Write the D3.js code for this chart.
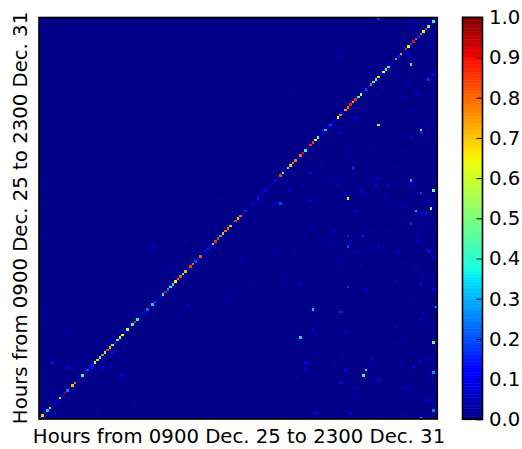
<!DOCTYPE html>
<html>
<head>
  <meta charset="utf-8">
  <title>Hour correlation matrix</title>
  <style>
  html, body { margin: 0; padding: 0; background: #fff; }
  svg { display: block; }
  text { font-family: "DejaVu Sans", sans-serif; fill: #000; }
  .axis-label { font-size: 19.7px; }
  .cbar-axis text { font-size: 19.7px; }
  .cbar-axis path { display: none; }
  .cbar-axis line { stroke: #000; stroke-width: 1px; }
  .frame { fill: none; stroke: #000; stroke-width: 1.6px; }
  </style>
</head>
<body>
  <div id="chart"></div>
  <script src="https://cdn.jsdelivr.net/npm/d3@7"></script>
  <script>
  var width = 522;
  var height = 449;

  var nHours = 159;
  var xLabel = "Hours from 0900 Dec. 25 to 2300 Dec. 31";
  var yLabel = "Hours from 0900 Dec. 25 to 2300 Dec. 31";
  var colorTicks = [0, 0.1, 0.2, 0.3, 0.4, 0.5, 0.6, 0.7, 0.8, 0.9, 1];
  var baseValue = 0.008;

  var diagonal = [
    0.25, 0.70, 0.15, 0.33, 0.50, 0.05, 0.10, 0.10, 0.70, 0.10,
    0.95, 0.25, 0.10, 0.72, 0.78, 0.05, 0.10, 0.42, 0.10, 0.20,
    0.10, 0.15, 0.55, 0.70, 0.38, 0.80, 0.45, 0.85, 0.72, 0.50,
    0.15, 0.40, 0.55, 0.65, 0.10, 0.55, 0.05, 0.42, 0.88, 0.38,
    0.10, 0.05, 0.13, 0.22, 0.05, 0.33, 0.20, 0.05, 0.10, 0.38,
    0.90, 0.25, 0.38, 0.35, 0.65, 0.80, 0.82, 0.40, 0.72, 0.10,
    0.85, 0.82, 0.20, 0.10, 0.82, 0.05, 0.10, 0.15, 0.12, 0.45,
    0.85, 0.85, 0.30, 0.72, 0.80, 0.78, 0.72, 0.08, 0.85, 0.72,
    0.80, 0.10, 0.15, 0.05, 0.03, 0.10, 0.05, 0.15, 0.08, 0.03,
    0.12, 0.10, 0.05, 0.03, 0.12, 0.03, 0.85, 0.42, 0.05, 0.40,
    0.72, 0.78, 0.78, 0.10, 0.82, 0.90, 0.40, 0.05, 0.88, 0.85,
    0.58, 0.48, 0.10, 0.10, 0.33, 0.10, 0.20, 0.10, 0.12, 0.65,
    0.80, 0.10, 0.75, 0.80, 0.88, 0.72, 0.87, 0.42, 0.58, 0.12,
    0.20, 0.08, 0.82, 0.40, 0.42, 0.68, 0.10, 0.65, 0.40, 0.45,
    0.10, 0.03, 0.78, 0.15, 0.75, 0.03, 0.88, 0.65, 0.22, 0.90,
    0.85, 0.15, 0.80, 0.60, 0.88, 0.50, 0.03, 0.42, 0.10
  ];

  //stronger cells away from the diagonal: column, row, value
  var offDiagonal = [
    [5,22,0.15],[11,20,0.12],[14,22,0.08],[14,20,0.08],[21,20,0.12],[25,20,0.10],[28,20,0.10],
    [29,26,0.14],[11,33,0.08],[33,17,0.10],[6,2,0.10],[14,30,0.05],
    [135,158,0.20],[148,140,0.40],[148,157,0.10],[135,116,0.50],[152,114,0.38],[152,113,0.18],
    [154,116,0.10],[157,136,0.12],[155,134,0.18],[126,119,0.10],[148,111,0.10],[145,127,0.08],
    [147,144,0.12],[120,113,0.10],[120,143,0.06],[150,130,0.08],
    [125,99,0.20],[135,95,0.12],[134,92,0.10],[148,94,0.30],[157,90,0.48],[152,89,0.20],
    [123,87,0.62],[156,83,0.52],[150,82,0.30],[152,81,0.14],[154,81,0.14],[126,82,0.12],
    [148,77,0.18],[118,74,0.10],[123,72,0.15],[129,72,0.15],[150,72,0.12],[123,68,0.20],
    [155,66,0.14],[108,97,0.10],[108,86,0.10],[129,89,0.08],[122,89,0.10],
    [104,53,0.10],[123,52,0.18],[130,51,0.12],[152,53,0.12],[157,51,0.12],[109,43,0.33],
    [120,42,0.18],[152,39,0.12],[104,32,0.35],[157,30,0.47],[106,22,0.12],[132,24,0.12],
    [122,19,0.12],[130,19,0.36],[129,17,0.40],[132,16,0.12],[135,15,0.12],[157,18,0.28],
    [106,19,0.10],[152,22,0.10],[120,14,0.14],[155,7,0.12],[157,3,0.25],[152,0,0.28],
    [110,2,0.12],[124,2,0.12],[144,1,0.08],[103,16,0.10],[109,35,0.08],[134,33,0.08],
    [142,36,0.08],[153,42,0.10],[158,44,0.30],[144,21,0.10],[149,20,0.10],[147,12,0.08],
    [144,12,0.08],[127,12,0.08],
    [96,85,0.20],[94,85,0.10],[59,45,0.12],[71,87,0.08],[80,63,0.10],[53,59,0.08],
    [45,68,0.07],[74,46,0.06],[100,90,0.06]
  ];

  //faint background cells, just above the base colour: column, row, value
  var faintCells = [
    [3,40,0.04],[8,12,0.04],[9,55,0.03],[12,7,0.05],[17,44,0.03],[18,6,0.05],[19,61,0.03],[23,3,0.04],
    [24,33,0.04],[26,12,0.05],[30,8,0.04],[31,52,0.03],[34,14,0.04],[36,29,0.03],[38,5,0.05],[40,22,0.04],
    [41,78,0.03],[44,14,0.04],[46,35,0.03],[48,60,0.04],[50,12,0.04],[52,90,0.03],[55,25,0.04],[57,41,0.03],
    [58,70,0.04],[60,105,0.03],[62,18,0.05],[64,48,0.04],[66,120,0.03],[68,34,0.04],[70,8,0.04],[72,62,0.04],
    [73,98,0.04],[75,130,0.03],[76,26,0.04],[78,55,0.04],[80,110,0.04],[82,38,0.03],[83,74,0.05],[85,142,0.03],
    [86,16,0.04],[88,60,0.05],[89,95,0.05],[90,125,0.03],[92,44,0.04],[93,70,0.05],[95,110,0.04],[96,30,0.04],
    [97,150,0.03],[98,56,0.05],[99,82,0.05],[100,128,0.04],[101,12,0.05],[102,66,0.05],[105,92,0.05],[106,140,0.04],
    [107,48,0.05],[108,26,0.05],[109,76,0.06],[110,118,0.05],[111,58,0.06],[112,100,0.05],[113,8,0.05],[114,84,0.06],
    [115,38,0.05],[116,70,0.06],[117,130,0.04],[118,22,0.05],[119,92,0.07],[120,60,0.06],[121,146,0.04],[122,34,0.06],
    [123,78,0.06],[124,104,0.05],[125,50,0.06],[126,10,0.05],[127,66,0.06],[128,90,0.07],[129,122,0.05],[130,40,0.06],
    [131,80,0.07],[132,58,0.06],[133,106,0.05],[134,28,0.06],[135,68,0.07],[136,140,0.05],[137,46,0.06],[138,88,0.07],
    [139,14,0.05],[140,74,0.07],[141,100,0.06],[142,54,0.07],[143,120,0.05],[144,32,0.06],[145,84,0.07],[146,62,0.08],
    [147,10,0.06],[148,48,0.07],[149,92,0.08],[150,26,0.06],[151,70,0.08],[152,104,0.07],[153,56,0.08],[154,38,0.07],
    [155,86,0.08],[156,18,0.06],[157,64,0.08],[158,110,0.06],[158,30,0.06],[156,148,0.06],[151,128,0.07],[149,122,0.08],
    [2,77,0.03],[4,118,0.03],[7,31,0.04],[10,96,0.03],[13,64,0.03],[15,140,0.03],[16,25,0.04],[20,83,0.03],
    [22,112,0.03],[27,58,0.04],[29,130,0.03],[33,72,0.04],[35,101,0.03],[37,46,0.04],[39,150,0.03],[42,16,0.04],
    [43,88,0.03],[47,124,0.03],[49,28,0.04],[51,66,0.04],[54,136,0.03],[56,10,0.04],[59,82,0.04],[61,33,0.04],
    [63,152,0.03],[65,52,0.04],[67,94,0.04],[69,21,0.04],[71,115,0.03],[74,42,0.04],[77,84,0.05],[79,5,0.04],
    [81,132,0.03],[84,54,0.05],[87,102,0.04],[91,24,0.05],[94,64,0.05],[103,40,0.05],[104,116,0.04],[106,72,0.06],
    [110,34,0.05],[113,62,0.06],[116,94,0.06],[118,50,0.06],[121,24,0.05],[124,70,0.07],[126,42,0.06],[128,60,0.07],
    [130,100,0.06],[133,74,0.07],[136,52,0.07],[139,92,0.07],[141,30,0.06],[143,66,0.08],[146,106,0.07],[148,38,0.07],
    [150,60,0.08],[152,76,0.08],[154,98,0.08],[155,24,0.07],[157,44,0.08],[158,76,0.07],[153,142,0.06],[147,132,0.06]
  ];

  //matplotlib jet as three piecewise channels
  var redScale = d3.scaleLinear().domain([0, 0.35, 0.66, 0.89, 1]).range([0, 0, 255, 255, 128]).clamp(true);
  var greenScale = d3.scaleLinear().domain([0, 0.125, 0.375, 0.64, 0.91, 1]).range([0, 0, 255, 255, 0, 0]).clamp(true);
  var blueScale = d3.scaleLinear().domain([0, 0.11, 0.34, 0.65, 1]).range([128, 255, 255, 0, 0]).clamp(true);
  function jet(v) {
    return d3.rgb(redScale(v), greenScale(v), blueScale(v)).formatHex();
  }

  var svg = d3.select("#chart")
    .append("svg")
    .attr("width", width)
    .attr("height", height);

  var x = d3.scaleLinear().domain([0, nHours]).range([38.7, 437.2]);
  var y = d3.scaleLinear().domain([0, nHours]).range([419.5, 17.5]);

  //background of the matrix
  svg.append("rect")
    .attr("x", 39)
    .attr("y", 17.5)
    .attr("width", 398.3)
    .attr("height", 401.5)
    .attr("fill", jet(baseValue));

  var cells = faintCells.concat(offDiagonal).concat(diagonal.map(function(v, i) { return [i, i, v]; }));

  svg.append("g")
    .selectAll("rect")
    .data(cells)
    .enter()
    .append("rect")
    .attr("x", function(d) { return x(d[0]); })
    .attr("y", function(d) { return y(d[1] + 1); })
    .attr("width", function(d) { return x(d[0] + 1) - x(d[0]); })
    .attr("height", function(d) { return y(d[1]) - y(d[1] + 1); })
    .attr("shape-rendering", "crispEdges")
    .attr("fill", function(d) { return jet(d[2]); });

  svg.append("rect")
    .attr("class", "frame")
    .attr("x", 39)
    .attr("y", 17.5)
    .attr("width", 398.3)
    .attr("height", 401.5);

  svg.append("text")
    .attr("class", "axis-label")
    .attr("x", 239)
    .attr("y", 443)
    .attr("text-anchor", "middle")
    .text(xLabel);

  svg.append("text")
    .attr("class", "axis-label")
    .attr("transform", "translate(27,218) rotate(-90)")
    .attr("text-anchor", "middle")
    .text(yLabel);

  //colour bar
  var cbarX = d3.scaleLinear().domain([0, 1]).range([462.5, 482.5]);
  var cbarY = d3.scaleLinear().domain([0, 1]).range([419.3, 17.3]);
  var steps = d3.range(256);

  svg.append("g")
    .selectAll("rect")
    .data(steps)
    .enter()
    .append("rect")
    .attr("x", cbarX(0))
    .attr("y", function(d) { return cbarY((d + 1) / 256); })
    .attr("width", cbarX(1) - cbarX(0))
    .attr("height", function(d) { return cbarY(d / 256) - cbarY((d + 1) / 256) + 0.5; })
    .attr("fill", function(d) { return jet((d + 0.5) / 256); });

  svg.append("g")
    .attr("class", "cbar-axis")
    .attr("transform", "translate(" + cbarX(1) + ",0)")
    .call(d3.axisRight(cbarY).tickValues(colorTicks).tickSize(-6).tickPadding(6.5).tickFormat(d3.format(".1f")));

  svg.append("rect")
    .attr("class", "frame")
    .attr("x", cbarX(0))
    .attr("y", cbarY(1))
    .attr("width", cbarX(1) - cbarX(0))
    .attr("height", cbarY(0) - cbarY(1));
  </script>
</body>
</html>
